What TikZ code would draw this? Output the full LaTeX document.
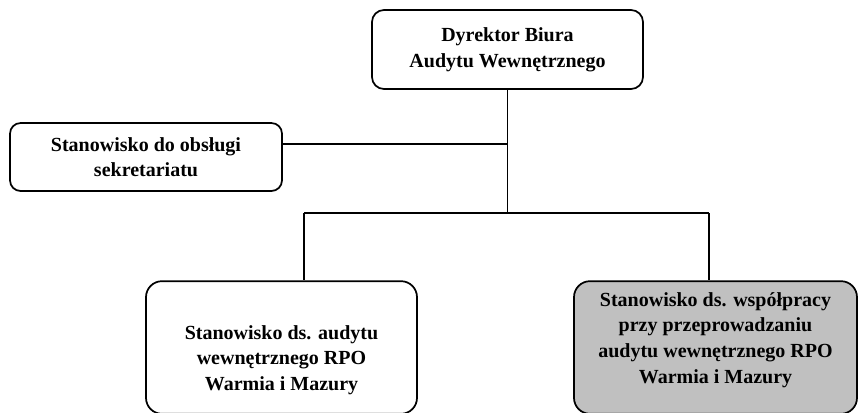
\documentclass[tikz,border=0pt]{standalone}
\usepackage{fontspec}
\setmainfont{Liberation Serif}
\usepackage{xcolor}
\usetikzlibrary{positioning,calc}
\definecolor{boxgray}{RGB}{192,192,192}

\begin{document}
\begin{tikzpicture}[x=0.75pt,y=-0.75pt,line width=1.3pt,
  font=\fontsize{15}{19.2}\selectfont\bfseries,
  b/.style={draw,rounded corners=#1,minimum width=203.25pt,inner sep=0pt,align=center},
  b/.default=9pt,
  t/.style={align=center,inner sep=0pt}]
\useasboundingbox (0,0) rectangle (858,412);
\clip (0,0) rectangle (858,412);
\node[b,minimum height=59.25pt] (dyr) at (507.5,49.5) {Dyrektor Biura\\Audytu Wewnętrznego};
\node[b=8pt,minimum width=204pt,minimum height=51pt] (sek) at (146,157) {Stanowisko do obsługi\\sekretariatu};
\node[b=12pt,minimum height=99.5pt] (aud) at (281.5,347.5) {};
\node[t] (audt) at (281.5,360) {Stanowisko ds. audytu\\wewnętrznego RPO\\Warmia i Mazury};
\node[b=12pt,fill=boxgray,minimum width=212.25pt,minimum height=99.5pt] (wsp) at (715.5,347.5) {};
\node[t] (wspt) at (715.5,340) {Stanowisko ds. współpracy\\przy przeprowadzaniu\\audytu wewnętrznego RPO\\Warmia i Mazury};
\coordinate (jl) at (304,213);
\coordinate (jr) at (709,213);
\draw (dyr.south) -- (dyr.south |- jl);
\draw ([yshift=9.75pt]sek.east) -- ([yshift=9.75pt]sek.east -| dyr.south);
\draw (jl) -- (jr);
\draw (jl) -- (jl |- aud.north);
\draw (jr) -- (jr |- wsp.north);
\end{tikzpicture}
\end{document}
